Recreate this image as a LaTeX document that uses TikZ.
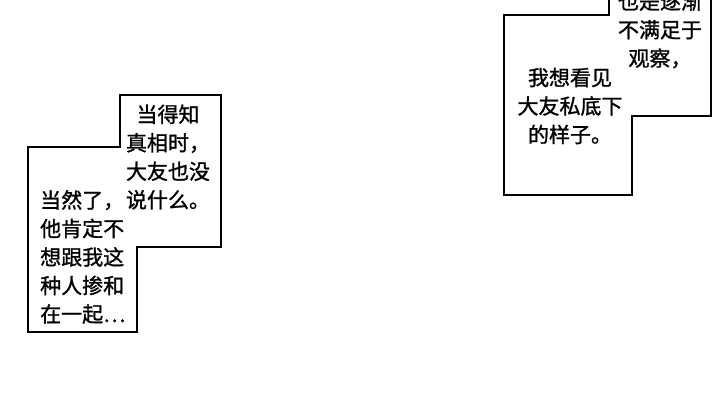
\documentclass[tikz,border=0pt]{standalone}
\usepackage{fontspec}
\newfontfamily\cjk[FakeBold=1.2]{Noto Sans CJK SC}
\begin{document}
\begin{tikzpicture}
  [x=1pt,y=-1pt,every node/.style={font=\cjk\fontsize{21}{28.5}\selectfont,inner sep=0pt}]
  \tikzstyle{panel} = [draw=black,line width=1.6pt,fill=white]
  \useasboundingbox (0,0) rectangle (720,408);
  \clip (0,0) rectangle (720,408);
  % left caption box
  \draw[panel] (28,147) -- (120,147) -- (120,95) -- (221,95) -- (221,247)
    -- (137,247) -- (137,332) -- (28,332) -- cycle;
  % right caption box
  \draw[panel] (504,15) -- (609,15) -- (609,-5) -- (711,-5) -- (711,116)
    -- (632,116) -- (632,195) -- (504,195) -- cycle;
  \node[align=center] (said) at (168,157) {当得知\\真相时，\\大友也没\\说什么。};
  \node[align=left,anchor=west] (sure) at (40,257) {当然了，\\他肯定不\\想跟我这\\种人掺和\\在一起…};
  \node[align=center] (watch) at (660,30) {也是逐渐\\不满足于\\观察，};
  \node[align=center] (want) at (570,106) {我想看见\\大友私底下\\的样子。};
\end{tikzpicture}
\end{document}
